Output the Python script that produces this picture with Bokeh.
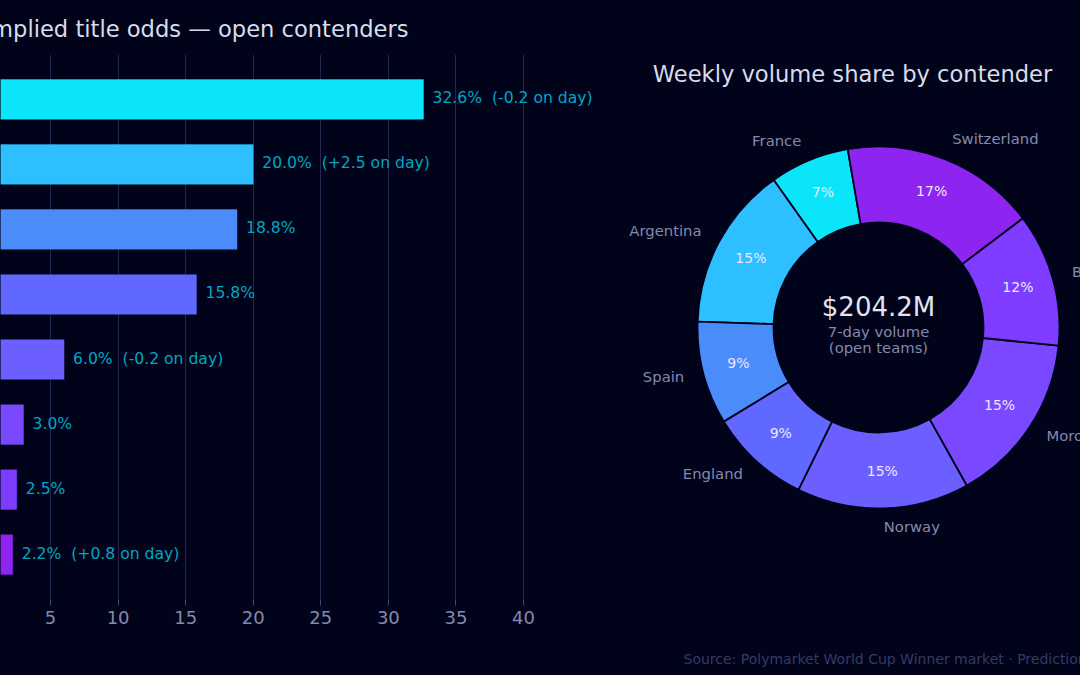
import numpy as np
from bokeh.core.properties import value
from bokeh.embed import file_html
from bokeh.layouts import row
from bokeh.models import ColumnDataSource, FactorRange, FixedTicker, Label, Range1d, Title
from bokeh.plotting import figure
from bokeh.resources import INLINE

BG = "#00031a"
FONT = "DejaVu Sans"
contenders = ["France", "Argentina", "Spain", "England", "Norway", "Morocco", "Brazil", "Switzerland"]
implied_odds = [32.6, 20.0, 18.8, 15.8, 6.0, 3.0, 2.5, 2.2]
day_change = [-0.2, 2.5, None, None, -0.2, None, None, 0.8]
weekly_volume = [14.5, 29.9, 18.8, 18.4, 31.4, 31.2, 24.3, 35.5]
share_labels = ["7%", "15%", "9%", "9%", "15%", "15%", "12%", "17%"]
colors = ["#0BE5F9", "#2DBFFF", "#4A8CFA", "#6168FF", "#6B60FF", "#7A48FF", "#7D3CFF", "#8E24F0"]
x_ticks = [0, 5, 10, 15, 20, 25, 30, 35, 40]

TEMPLATE = """<!DOCTYPE html>
<html><head><meta charset="utf-8"><title>Chart</title>
<style>html,body{margin:0;padding:0;background:#00031a;overflow:hidden}</style>
{{ bokeh_css }}{{ bokeh_js }}</head>
<body>{{ plot_div }}{{ plot_script }}</body></html>"""

# ---------- bars ----------
def bar_text(v, d):
    return f"{v:.1f}%" if d is None else f"{v:.1f}%\u00a0\u00a0({d:+.1f} on day)"

bars = ColumnDataSource(dict(
    name=contenders, value=implied_odds, color=colors,
    label=[bar_text(v, d) for v, d in zip(implied_odds, day_change)],
))

left = figure(
    width=600, height=675, output_backend="svg", toolbar_location=None,
    x_range=Range1d(1.295, 45.7),
    y_range=FactorRange(factors=contenders[::-1], range_padding=0.0475),
    background_fill_color=None, border_fill_color=None, outline_line_color=None,
    min_border_left=0, min_border_right=0, min_border_top=54, min_border_bottom=76,
    styles={"background-color": BG},
)
left.hbar(y="name", left=0, right="value", height=0.61, source=bars,
          fill_color="color", line_color="color", line_alpha=0.4, line_width=1)
left.text(x="value", y="name", text="label", source=bars, x_offset=9, y_offset=-1,
          text_baseline="middle", text_color="#00A6C2", text_font_size="15.6px",
          text_font=value(FONT))
left.yaxis.visible = False
left.ygrid.visible = False
left.xgrid.grid_line_color = "#23264C"
left.xgrid.grid_line_width = 1
left.xaxis.ticker = FixedTicker(ticks=x_ticks)
left.xaxis.axis_line_color = None
left.xaxis.major_tick_line_color = "#45486E"
left.xaxis.major_tick_out = 6
left.xaxis.major_tick_in = 0
left.xaxis.minor_tick_line_color = None
left.xaxis.major_label_text_color = "#8589AD"
left.xaxis.major_label_text_font = FONT
left.xaxis.major_label_text_font_size = "18px"
left.add_layout(Title(text="Implied title odds \u2014 open contenders", align="right", offset=192,
                      standoff=25, text_color="#D8DCEA", text_font=FONT,
                      text_font_size="22.6px", text_font_style="normal"), "above")

# ---------- donut ----------
vals = np.array(weekly_volume, dtype=float)
frac = vals / vals.sum()
start_deg = 99.8
edges = np.radians(start_deg + 360 * np.concatenate([[0], np.cumsum(frac)]))
mid = (edges[:-1] + edges[1:]) / 2

OUTER, INNER = 1.0, 0.58
right = figure(
    width=480, height=675, output_backend="svg", toolbar_location=None,
    x_range=Range1d(-278 / 181, 202 / 181), y_range=Range1d(-272 / 181, 273 / 181),
    background_fill_color=None, border_fill_color=None, outline_line_color=None,
    min_border_left=0, min_border_right=0, min_border_top=54, min_border_bottom=76,
    styles={"background-color": BG},
)
right.axis.visible = False
right.grid.visible = False
right.annular_wedge(x=0, y=0, inner_radius=INNER, outer_radius=OUTER,
                    start_angle=edges[:-1], end_angle=edges[1:], fill_color=colors,
                    line_color=BG, line_width=1.8)
right.text(x=0.8 * np.cos(mid), y=0.8 * np.sin(mid), text=share_labels, y_offset=-1.5,
           text_align="center", text_baseline="middle", text_color="#EDE6FF",
           text_font_size="14px", text_font=value(FONT))
right.text(x=1.11 * np.cos(mid), y=1.11 * np.sin(mid), text=contenders, y_offset=-2,
           text_align=["left" if np.cos(a) > 0 else "right" for a in mid],
           text_baseline="middle", text_color="#8589AD",
           text_font_size="14.8px", text_font=value(FONT))

def note(x, y, text, color, size, align="center"):
    right.add_layout(Label(x=x, y=599 - y, x_units="screen", y_units="screen", text=text,
                           text_align=align, text_baseline="middle", text_color=color,
                           text_font=FONT, text_font_size=size))

note(252, 73, "Weekly volume share by contender", "#D8DCEA", "22.6px")
note(278, 306, "$204.2M", "#E0E4F0", "26px")
note(278, 331, "7-day volume", "#8589AD", "14.8px")
note(278, 347, "(open teams)", "#8589AD", "14.8px")

# blank title: only reserves the room between the frame and the source line
right.add_layout(Title(text="\u00a0", text_font_size="1px", standoff=45), "below")
right.add_layout(Title(text="Source: Polymarket World Cup Winner market \u00b7 Prediction market prices",
                       align="left", offset=83, standoff=2, text_color="#363A63", text_font=FONT,
                       text_font_size="14px", text_font_style="normal"), "below")

layout = row(left, right, spacing=0, styles={"background-color": BG})
open("out.html", "w").write(file_html(layout, INLINE, template=TEMPLATE))
